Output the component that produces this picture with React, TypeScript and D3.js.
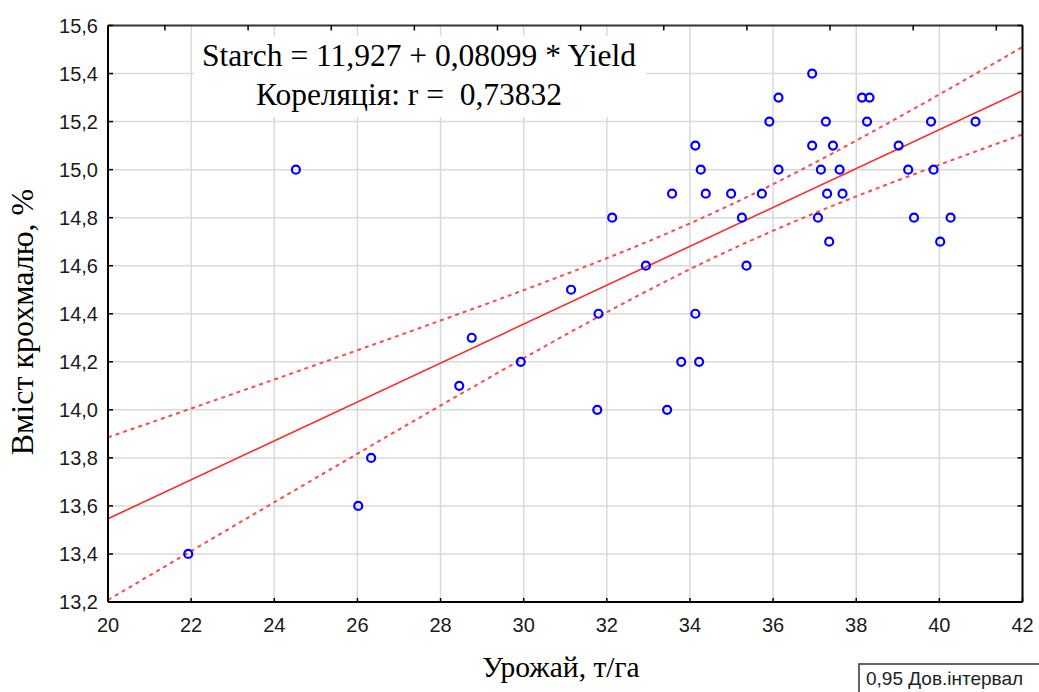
import React from "react";
import * as d3 from "d3";

// Yield (t/ha) and starch content (%)
const yieldValues = [
  21.93, 24.52, 26.02, 26.33, 28.45, 28.75, 29.93, 31.14, 31.77, 31.8,
  32.13, 32.94, 33.45, 33.57, 33.79, 34.13, 34.13, 34.22, 34.26, 34.38,
  34.99, 35.25, 35.36, 35.73, 35.91, 36.13, 36.13, 36.94, 36.94, 37.08,
  37.15, 37.27, 37.3, 37.35, 37.44, 37.6, 37.67, 38.14, 38.26, 38.32,
  39.02, 39.25, 39.39, 39.8, 39.86, 40.02, 40.27, 40.87,
];
const starchValues = [
  13.4, 15.0, 13.6, 13.8, 14.1, 14.3, 14.2, 14.5, 14.0, 14.4,
  14.8, 14.6, 14.0, 14.9, 14.2, 15.1, 14.4, 14.2, 15.0, 14.9,
  14.9, 14.8, 14.6, 14.9, 15.2, 15.3, 15.0, 15.4, 15.1, 14.8,
  15.0, 15.2, 14.9, 14.7, 15.1, 15.0, 14.9, 15.3, 15.2, 15.3,
  15.1, 15.0, 14.8, 15.2, 15.0, 14.7, 14.8, 15.2,
];
const xTicks = [20, 22, 24, 26, 28, 30, 32, 34, 36, 38, 40, 42];
const yTicks = [13.2, 13.4, 13.6, 13.8, 14.0, 14.2, 14.4, 14.6, 14.8, 15.0, 15.2, 15.4, 15.6];
const INTERCEPT = 11.927;
const SLOPE = 0.08099;
const R_VALUE = "0,73832";
const T_975 = 2.0129;
const TOP_TICK_SHIFT = 1.37;

const W = 1039;
const H = 692;
const L = 108;
const Rt = 1022.5;
const T = 25.5;
const B = 602;

const fmt = (v: number) => d3.format(".1f")(v).replace(".", ",");

export default function App() {
  const x = d3.scaleLinear().domain([20, 42]).range([L, Rt]);
  const y = d3.scaleLinear().domain([13.2, 15.6]).range([B, T]);

  const n = yieldValues.length;
  const xbar = d3.mean(yieldValues) as number;
  const sxx = d3.sum(yieldValues, (v) => (v - xbar) ** 2);
  const sse = d3.sum(yieldValues, (v, i) => (starchValues[i] - (INTERCEPT + SLOPE * v)) ** 2);
  const s = Math.sqrt(sse / (n - 2));
  const band = (v: number) => T_975 * s * Math.sqrt(1 / n + (v - xbar) ** 2 / sxx);
  const xs = d3.range(20, 42.001, 0.25);
  const line = d3
    .line<number>()
    .x((v) => x(v))
    .y((v) => y(INTERCEPT + SLOPE * v));
  const upper = d3
    .line<number>()
    .x((v) => x(v))
    .y((v) => y(INTERCEPT + SLOPE * v + band(v)));
  const lower = d3
    .line<number>()
    .x((v) => x(v))
    .y((v) => y(INTERCEPT + SLOPE * v - band(v)));

  const red = "#ff2a2a";
  const sans = "'Liberation Sans', Arial, sans-serif";
  const serif = "'Liberation Serif', 'Times New Roman', serif";

  return (
    <svg width={W} height={H} style={{ position: "absolute", left: 0, top: 0, background: "#fff" }}>
      <defs>
        <clipPath id="plotClip">
          <rect x={L} y={T} width={Rt - L} height={B - T} />
        </clipPath>
      </defs>
      {/* grid */}
      {xTicks.slice(1, -1).map((t) => (
        <line key={"gx" + t} x1={x(t)} x2={x(t)} y1={T} y2={B} stroke="#d9d9d9" strokeWidth={1.5} />
      ))}
      {yTicks.slice(1, -1).map((t) => (
        <line key={"gy" + t} x1={L} x2={Rt} y1={y(t)} y2={y(t)} stroke="#d9d9d9" strokeWidth={1.5} />
      ))}
      {/* annotation box */}
      <rect x={194} y={36} width={452} height={81} fill="#fff" />
      <text x={419} y={66} textAnchor="middle" fontFamily={serif} fontSize={31.5} fill="#000">
        Starch = 11,927 + 0,08099 * Yield
      </text>
      <text x={409} y={105} textAnchor="middle" fontFamily={serif} fontSize={31.5} fill="#000" style={{ whiteSpace: "pre" }}>
        {"Кореляція: r =  " + R_VALUE}
      </text>
      {/* regression + bands */}
      <g clipPath="url(#plotClip)">
        <path d={upper(xs) || ""} fill="none" stroke={red} strokeWidth={2} strokeDasharray="4,4" opacity={0.85} />
        <path d={lower(xs) || ""} fill="none" stroke={red} strokeWidth={2} strokeDasharray="4,4" opacity={0.85} />
        <path d={line([20, 42]) || ""} fill="none" stroke={red} strokeWidth={1.6} />
      </g>
      {/* points */}
      {yieldValues.map((v, i) => (
        <circle key={"p" + i} cx={x(v)} cy={y(starchValues[i])} r={4} fill="none" stroke="#0000ff" strokeWidth={2.2} />
      ))}
      {/* frame */}
      <line x1={L} x2={Rt} y1={T} y2={T} stroke="#333" strokeWidth={2} />
      <line x1={L} x2={Rt} y1={B} y2={B} stroke="#000" strokeWidth={2} />
      <line x1={L} x2={L} y1={T} y2={B} stroke="#000" strokeWidth={2} />
      <line x1={Rt} x2={Rt} y1={T} y2={B} stroke="#000" strokeWidth={2} />
      {/* ticks */}
      {yTicks.map((t) => (
        <g key={"ty" + t}>
          <line x1={L} x2={L + 5} y1={y(t)} y2={y(t)} stroke="#000" strokeWidth={1.5} />
          <line x1={Rt - 5} x2={Rt} y1={y(t)} y2={y(t)} stroke="#000" strokeWidth={1.5} />
          <text x={98} y={y(t)} dy="0.35em" textAnchor="end" fontFamily={sans} fontSize={20} fill="#1a1a1a">
            {fmt(t)}
          </text>
        </g>
      ))}
      {xTicks.slice(0, -1).map((t) => (
        <line key={"tt" + t} x1={x(t + TOP_TICK_SHIFT)} x2={x(t + TOP_TICK_SHIFT)} y1={T} y2={T + 5} stroke="#000" strokeWidth={1.5} />
      ))}
      {xTicks.map((t) => (
        <g key={"tx" + t}>
          <line x1={x(t)} x2={x(t)} y1={B} y2={B - 4} stroke="#000" strokeWidth={1.5} />
          <text x={x(t)} y={632} textAnchor="middle" fontFamily={sans} fontSize={20} fill="#1a1a1a">
            {t}
          </text>
        </g>
      ))}
      {/* axis titles */}
      <text x={561} y={677} textAnchor="middle" fontFamily={serif} fontSize={29.5} fill="#000">
        Урожай, т/га
      </text>
      <text
        transform={`translate(33, ${322}) rotate(-90)`}
        textAnchor="middle"
        fontFamily={serif}
        fontSize={32}
        fill="#000"
      >
        Вміст крохмалю, %
      </text>
      {/* legend */}
      <rect x={859} y={664} width={185} height={34} fill="#fff" stroke="#333" strokeWidth={1.5} />
      <text x={866} y={685} fontFamily={sans} fontSize={19} fill="#222">
        0,95 Дов.інтервал
      </text>
    </svg>
  );
}
